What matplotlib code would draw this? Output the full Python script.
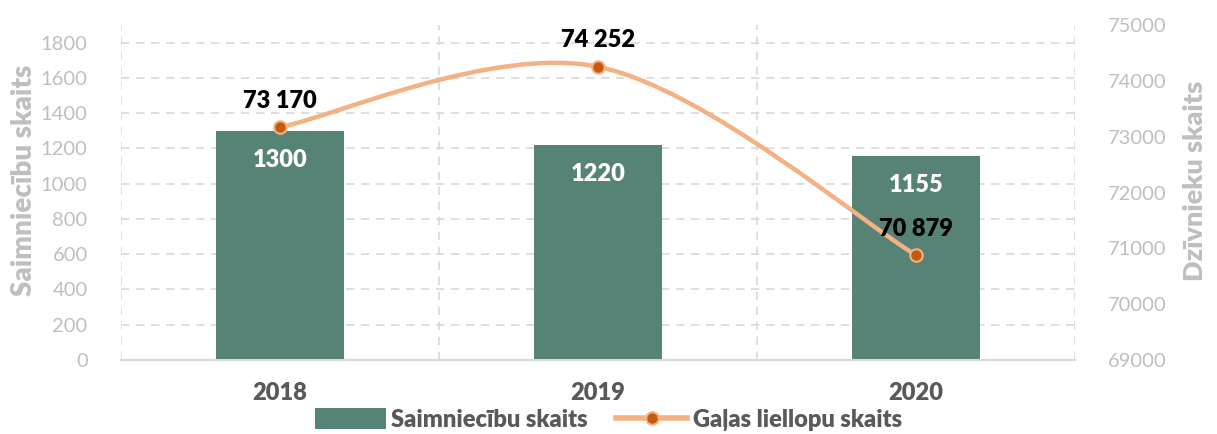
import matplotlib.pyplot as plt
from matplotlib.path import Path
from matplotlib.patches import PathPatch, Patch
from matplotlib.lines import Line2D
import numpy as np

years = ['2018', '2019', '2020']
saimniecibas = [1300, 1220, 1155]
liellopi = [73170, 74252, 70879]
liellopi_labels = ['73 170', '74 252', '70 879']

bar_color = '#578276'
line_color = '#f4b183'
marker_color = '#c55a11'
grid_color = '#d9d9d9'
axis_text = '#bfbfbf'
dark_text = '#595959'
fam = ['Lato', 'DejaVu Sans']

plt.rcParams['font.family'] = fam

fig = plt.figure(figsize=(12.17, 4.34), dpi=100)
ax = fig.add_axes([0.0994, 0.1705, 0.7839, 0.7719])
ax2 = ax.twinx()

x = np.arange(len(years))

# stabini
ax.bar(x, saimniecibas, width=0.4, color=bar_color, zorder=2)
for xi, v in zip(x, saimniecibas):
    ax.text(xi, v - 165, str(v), ha='center', va='center', color='white',
            fontsize=17, fontweight='heavy', zorder=3)

ax.set_xlim(-0.5, 2.5)
ax.set_ylim(0, 1900)
ax.set_yticks(range(0, 1801, 200))
ax.set_xticks(x)
ax.set_xticklabels(years, fontsize=17, fontweight='heavy', color=dark_text)
ax.tick_params(axis='x', length=0, pad=16)
ax.tick_params(axis='y', length=0, labelsize=14.5, labelcolor=axis_text, pad=24)

# rezgis
for gy in range(200, 1801, 200):
    ax.axhline(gy, color=grid_color, lw=1.2, ls=(0, (5, 4)), zorder=0)
for gx in [-0.5, 0.5, 1.5, 2.5]:
    ax.axvline(gx, color=grid_color, lw=1.2, ls=(0, (5, 4)), zorder=0)
for s in ['top', 'right', 'left']:
    ax.spines[s].set_visible(False)
    ax2.spines[s].set_visible(False)
ax2.spines['bottom'].set_visible(False)
ax.spines['bottom'].set_color(grid_color)
ax.spines['bottom'].set_linewidth(1.5)

ax.set_ylabel('Saimniecību skaits', fontsize=20, fontweight='heavy',
              color=axis_text)
ax.yaxis.set_label_coords(-0.088, 0.535)

# otrā ass - gludināta līnija
ax2.set_ylim(69000, 75000)
ax2.set_yticks(range(69000, 75001, 1000))
ax2.tick_params(axis='y', length=0, labelsize=14.5, labelcolor=axis_text, pad=24)
ax2.set_ylabel('Dzīvnieku skaits', fontsize=19.5, fontweight='heavy',
               color=axis_text)
ax2.yaxis.set_label_coords(1.113, 0.535)

pts = np.column_stack([x, liellopi]).astype(float)
n = len(pts)
verts = [pts[0]]
codes = [Path.MOVETO]
for i in range(n - 1):
    p0 = pts[max(i - 1, 0)]
    p1 = pts[i]
    p2 = pts[i + 1]
    p3 = pts[min(i + 2, n - 1)]
    verts += [p1 + (p2 - p0) / 6, p2 - (p3 - p1) / 6, p2]
    codes += [Path.CURVE4] * 3
ax2.add_patch(PathPatch(Path(verts, codes), fill=False, edgecolor=line_color,
                        lw=3.2, capstyle='round', zorder=3))
ax2.plot(x, liellopi, ls='none', marker='o', ms=9, mfc=marker_color,
         mec=line_color, mew=1.5, zorder=4)
for xi, v, lab in zip(x, liellopi, liellopi_labels):
    ax2.annotate(lab, (xi, v), xytext=(0, 19), textcoords='offset points',
                 ha='center', va='center', fontsize=17, fontweight='heavy',
                 color='black', zorder=5)

handles = [Patch(facecolor=bar_color, edgecolor='none'),
           Line2D([0], [0], color=line_color, lw=4, marker='o', ms=9,
                  mfc=marker_color, mec=line_color, mew=1.5)]
fig.legend(handles, ['Saimniecību skaits', 'Gaļas liellopu skaits'],
           loc='center', bbox_to_anchor=(0.5, 0.033), ncol=2, frameon=False,
           prop={'family': fam, 'size': 17, 'weight': 'heavy'},
           labelcolor=dark_text, handlelength=3.0, handletextpad=0.25,
           columnspacing=1.2, handleheight=1.0)

fig.savefig('out.png', dpi=100)
